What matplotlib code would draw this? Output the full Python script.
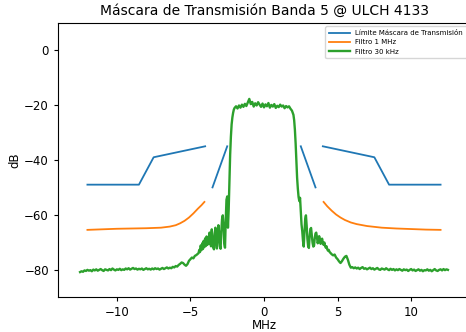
import numpy as np
import matplotlib
matplotlib.use("Agg")
import matplotlib.pyplot as plt

# --- spectral mask (NaN = gap between segments)
MASK_X = [-12, -8.5, -7.5, -4, np.nan, -3.5, -2.5, np.nan, 2.5, 3.5, np.nan, 4, 7.5, 8.5, 12]
MASK_Y = [-49, -49, -39, -35, np.nan, -50, -35, np.nan, -35, -50, np.nan, -35, -39, -49, -49]

# --- 1 MHz filter
F1_X = [-12, -11, -10, -9, -8, -7, -6.4, -6, -5.7, -5.4, -5.1, -4.8, -4.5, -4.25, -4.05, np.nan,
        4.05, 4.3, 4.6, 4.9, 5.2, 5.5, 5.9, 6.3, 7, 8, 9, 10, 11, 12]
F1_Y = [-65.5, -65.3, -65.1, -65.0, -64.9, -64.7, -64.3, -63.8, -63.1, -62.2, -61.0, -59.5, -57.8, -56.5, -55.3, np.nan,
        -55.3, -56.9, -58.5, -59.9, -61.0, -61.9, -62.8, -63.4, -64.1, -64.7, -65.0, -65.2, -65.4, -65.5]

G_LEFT = [-80.9, -80.6, -80.8, -80.3, -80.5, -80.1, -80.4, -80.2, -80.6, -80.0,
          -80.3, -79.9, -80.4, -80.1, -79.8, -80.2, -80.5, -79.9, -80.1, -80.3,
          -79.8, -80.2, -79.6, -80.0, -80.3, -79.9, -80.1, -79.7, -80.2, -79.9,
          -80.1, -79.6, -79.9, -79.5, -80.0, -79.7, -79.4, -79.8, -79.6, -80.0,
          -79.7, -79.9, -79.6, -80.1, -79.8, -79.5, -79.9, -79.7, -80.0, -79.6,
          -79.9, -79.5, -79.8, -79.6, -80.0, -79.7, -79.4, -79.8, -79.5, -79.2,
          -79.6, -79.3, -79.5, -79.0, -79.2, -78.7, -78.9, -78.3, -77.9, -77.4,
          -77.6, -78.2, -78.6, -78.0, -76.8, -76.2, -75.6, -75.9, -75.0, -74.7,
          -74.2]
G_EDGE_L = [-74.0, -72.8, -73.6, -71.2, -72.9, -70.4, -72.5, -69.5, -71.8, -68.6,
            -71.4, -67.9, -71.0, -68.2, -70.6, -66.5, -69.8, -71.5, -65.3, -68.9,
            -71.8, -72.6, -67.0, -64.7, -69.5, -72.3, -68.0, -63.8, -66.5, -71.5,
            -72.4, -66.0, -61.5, -60.2, -64.0, -70.5, -72.0, -62.0, -54.5, -53.3,
            -64.7, -58.0, -48.0, -38.0, -31.5, -27.0, -24.5, -22.8, -21.6]
G_TOP = [-21.0, -20.4, -21.2, -20.1, -20.9, -19.8, -20.6, -19.5, -20.3, -19.0,
         -17.7, -19.6, -18.8, -20.5, -19.3, -20.1, -18.9, -19.8, -20.6, -19.4,
         -20.8, -19.7, -20.4, -19.2, -20.9, -19.9, -20.5, -19.6, -21.0, -20.2,
         -20.7, -19.8, -20.5, -20.1, -21.1, -20.3, -20.8, -20.4, -21.3, -22.0,
         -23.5]
G_EDGE_R = [-25.5, -29.0, -34.0, -40.5, -46.5, -50.5, -53.5, -55.0, -53.8, -58.5,
            -63.5, -66.0, -69.5, -71.6, -66.5, -61.5, -60.2, -64.0, -68.8, -71.5,
            -72.1, -68.0, -65.2, -64.8, -67.5, -70.2, -71.6, -71.3, -68.5, -66.8,
            -66.5, -68.2, -70.4, -69.2, -67.8, -69.0, -70.6, -69.4, -68.7, -70.3,
            -71.0, -70.1, -71.4, -72.0, -71.5, -72.6, -73.1, -72.8, -73.5]
G_RIGHT = [-73.8, -74.4, -74.8, -74.5, -75.6, -76.2, -77.0, -77.6, -76.9, -76.0,
           -75.3, -75.0, -76.4, -78.2, -79.3, -79.1,
           -79.5, -79.2, -79.6, -79.3, -79.8, -79.4, -79.1, -79.7, -79.5, -79.9,
           -79.6, -79.3, -79.8, -79.5, -80.0, -79.7, -79.4, -79.9, -80.1, -79.6,
           -79.8, -80.0, -79.5, -79.9, -80.2, -79.7, -80.1, -79.8, -80.3, -79.9,
           -80.2, -79.8, -80.1, -80.4, -79.9, -80.2, -80.0, -80.5, -80.1, -79.8,
           -80.3, -80.0, -80.5, -80.2, -79.9, -80.4, -80.1, -80.6, -80.2, -80.3,
           -79.9, -80.4, -80.1, -80.6, -80.2, -79.8, -80.3, -80.5, -80.1, -79.9,
           -80.3, -79.8, -80.2, -79.9, -80.1]

# frequency grid of each piece (start, stop) in MHz
G_SPANS = [(-12.5, -4.5), (-4.45, -2.05), (-2.0, 2.0), (2.05, 4.45), (4.5, 12.5)]
G_PIECES = [G_LEFT, G_EDGE_L, G_TOP, G_EDGE_R, G_RIGHT]

g_x = np.concatenate([np.linspace(a, b, len(p)) for (a, b), p in zip(G_SPANS, G_PIECES)])
g_y = np.concatenate(G_PIECES)

fig = plt.figure(figsize=(4.66, 3.32), dpi=100)
# axes runs a little past the right edge, like the source image
ax = fig.add_axes([58 / 466, 35 / 332, 412 / 466, 274 / 332])

ax.plot(MASK_X, MASK_Y, color="#1f77b4", lw=1.3, label="Límite Máscara de Transmisión")
ax.plot(F1_X, F1_Y, color="#ff7f0e", lw=1.3, label="Filtro 1 MHz")
ax.plot(g_x, g_y, color="#2ca02c", lw=1.7, label="Filtro 30 kHz")

ax.set_xlim(-14, 14)
ax.set_ylim(-90, 10)
ax.set_xticks([-10, -5, 0, 5, 10])
ax.set_yticks([-80, -60, -40, -20, 0])
ax.tick_params(labelsize=8.5, length=3)
ax.set_xlabel("MHz", fontsize=8.5, labelpad=0)
ax.set_ylabel("dB", fontsize=8.5, labelpad=2)
ax.set_title("Máscara de Transmisión Banda 5 @ ULCH 4133", fontsize=10, pad=6)
ax.legend(loc="upper right", fontsize=5, handlelength=3, borderpad=0.5, labelspacing=0.5)

fig.savefig("out.png", dpi=100)
